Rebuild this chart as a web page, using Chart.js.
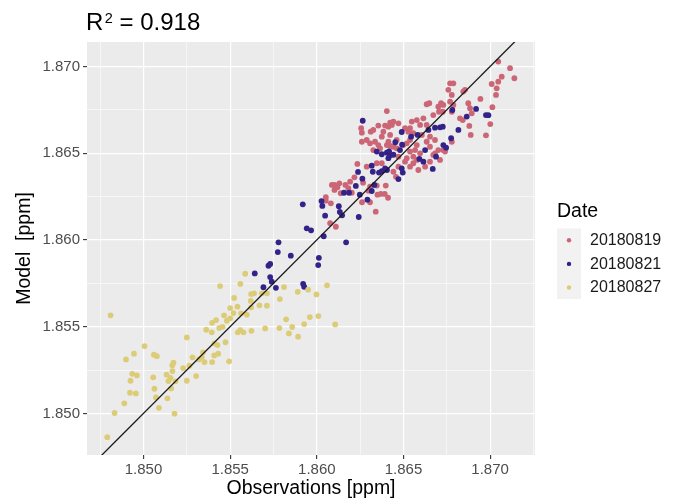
<!DOCTYPE html>
<html>
<head>
<meta charset="utf-8">
<script src="https://cdn.jsdelivr.net/npm/chart.js@4.4.1/dist/chart.umd.min.js"></script>
<style>
  body { margin: 0; background: #fff; }
  canvas { display: block; }
</style>
</head>
<body>
<canvas id="myChart" width="673" height="503"></canvas>
<script>
// ===== data
var dates = ["20180819", "20180821", "20180827"];
var colors = ["#CC6677", "#332288", "#DDCC77"];

var obs0819 = [1.86102,1.86119,1.86102,1.86130,1.86165,1.86182,1.86138,1.86217,1.86202,1.86267,1.86298,1.86346,1.86398,1.86350,1.86369,1.86392,1.86411,1.86261,1.86307,1.86340,1.86081,1.86052,1.86052,1.86077,1.86110,1.86457,1.86442,1.86192,1.86087,1.86307,
  1.86404,1.86442,1.86433,1.86423,1.86413,1.86394,1.86355,1.86326,1.86311,1.86260,1.86375,1.86384,1.86423,1.86413,1.86404,1.86423,1.86442,1.86461,1.86519,1.86538,1.86557,1.86548,1.86577,1.86577,1.86557,1.86519,1.86509,1.86538,1.86471,1.86336,1.86307,1.86346,1.86375,1.86288,1.86234,1.86538,1.86567,1.86586,
  1.86256,1.86471,1.86509,1.86538,1.86528,1.86260,1.86288,1.86355,1.86461,1.86326,1.86365,1.86577,1.86499,1.86471,1.86557,
  1.87047,1.87115,1.87140,1.87067,1.87047,1.87009,1.87038,1.87034,1.87013,1.87001,1.86976,1.86944,1.86884,1.86874,1.86894,1.86855,1.86845,1.86788,1.86769,1.86759,1.86779,1.86769,1.86779,1.86788,1.86826,1.86842,1.86880,1.86888,1.86779,1.86717,1.86701,1.86705,1.86672,1.86634,1.86649,1.86730,1.86727,1.86615,1.86596,1.86606,1.86653,1.86682,1.86701,1.86730,1.86740,1.86672,1.86634,1.86711,1.86653,1.86625,1.86634,1.86653,1.86682,1.86596];
var mod0819 = [1.86317,1.86303,1.86288,1.86326,1.86317,1.86298,1.86269,1.86361,1.86272,1.86330,1.86284,1.86313,1.86313,1.86261,1.86265,1.86265,1.86243,1.86217,1.86217,1.86163,1.86211,1.86226,1.86246,1.86096,1.86076,1.86364,1.86393,1.86336,1.86317,1.86307,
  1.86743,1.86682,1.86663,1.86676,1.86653,1.86659,1.86659,1.86634,1.86624,1.86618,1.86595,1.86624,1.86605,1.86566,1.86547,1.86542,1.86537,1.86528,1.86557,1.86576,1.86615,1.86682,1.86691,1.86461,1.86442,1.86471,1.86451,1.86422,1.86422,1.86566,1.86557,1.86442,1.86442,1.86422,1.86438,1.86509,1.86518,1.86403,
  1.86644,1.86672,1.86644,1.86644,1.86624,1.86566,1.86576,1.86547,1.86576,1.86518,1.86528,1.86547,1.86547,1.86480,1.86480,
  1.87028,1.86990,1.86932,1.86941,1.86912,1.86899,1.86874,1.86836,1.86765,1.86668,1.86603,1.86813,1.86759,1.86788,1.86730,1.86865,1.86855,1.86903,1.86903,1.86865,1.86836,1.86797,1.86739,1.86778,1.86701,1.86691,1.86657,1.86605,1.86566,1.86788,1.86768,1.86739,1.86720,1.86782,1.86788,1.86778,1.86739,1.86701,1.86663,1.86605,1.86595,1.86576,1.86518,1.86518,1.86509,1.86490,1.86566,1.86461,1.86451,1.86422,1.86663,1.86537,1.86499,1.86499];

var obs0821 = [1.85779,1.85775,1.85850,1.85721,1.85731,1.85642,1.85731,1.85740,1.85692,1.85764,1.85921,1.85927,1.86012,1.86008,1.86040,1.86169,
  1.85919,1.86027,1.86032,1.86048,1.86127,1.86133,1.86146,1.86242,1.85942,1.85967,1.86238,1.86225,1.86263,1.86157,1.86186,1.86248,1.86292,1.86317,1.86323,1.86359,1.86375,1.86405,1.86332,1.86471,
  1.86265,1.86490,1.86544,1.86582,1.86453,1.86492,1.86375,1.86404,1.86423,1.86442,1.86417,1.86317,1.86394,1.86490,1.86496,1.86592,1.86346,1.86480,1.86413,
  1.86782,1.86919,1.86865,1.86976,1.86990,1.86727,1.86711,1.86682,1.86644,1.86775,1.86730,1.86746,1.86688,1.86625,1.86615,1.86669,1.86817];
var mod0821 = [1.85986,1.85930,1.85909,1.85851,1.85861,1.85807,1.85786,1.85759,1.85727,1.85724,1.85747,1.85730,1.85897,1.85855,1.86021,1.85986,
  1.86205,1.86224,1.86196,1.86140,1.86194,1.86161,1.86142,1.86132,1.86067,1.86055,1.86392,1.86311,1.86353,1.86272,1.86272,1.86261,1.86232,1.86282,1.86393,1.86388,1.86396,1.86403,1.86317,1.86351,
  1.86687,1.86622,1.86595,1.86605,1.86563,1.86549,1.86494,1.86503,1.86488,1.86491,1.86511,1.86428,1.86413,1.86413,1.86388,1.86467,1.86509,1.86518,1.86471,
  1.86749,1.86755,1.86711,1.86720,1.86719,1.86653,1.86649,1.86647,1.86634,1.86586,1.86547,1.86532,1.86480,1.86518,1.86451,1.86409,1.86634];

var obs0827 = [1.84810,1.84833,1.84791,1.84889,1.84922,1.84956,1.84925,1.84935,1.84962,1.84899,1.84945,1.85006,1.85060,1.85077,1.85056,1.85063,1.85072,1.85089,1.85179,1.85138,1.85133,1.85144,1.85156,1.85160,1.85185,1.85167,1.85166,1.85173,1.85229,1.85250,
  1.85304,1.85265,1.85283,1.85320,1.85337,1.85352,1.85343,1.85396,1.85408,1.85409,1.85250,1.85362,1.85394,1.85396,1.85419,1.85437,1.85456,1.85465,1.85481,1.85500,1.85500,1.85519,1.85523,1.85542,1.85563,1.85596,1.85621,1.85619,1.85621,1.85638,
  1.85669,1.85683,1.85712,1.85712,1.85559,1.85587,1.85442,1.85473,1.85427,1.85431,1.85494,1.85544,1.85558,1.85577,1.85623,1.85702,1.85784,1.85839,1.85858,1.85892,1.85823,1.85927,1.85960,1.86009,1.86106,1.85787,1.85811,1.85890,1.85950,1.85998,1.86059];
var mod0827 = [1.85565,1.85002,1.84863,1.85058,1.85119,1.85115,1.85188,1.85228,1.85219,1.85311,1.85344,1.85388,1.85338,1.85330,1.85208,1.85142,1.85092,1.85032,1.84998,1.85087,1.85223,1.85186,1.85204,1.85144,1.85185,1.85244,1.85277,1.85292,1.85261,1.85188,
  1.85215,1.85275,1.85323,1.85311,1.85323,1.85296,1.85352,1.85296,1.85334,1.85404,1.85438,1.85482,1.85467,1.85522,1.85538,1.85492,1.85499,1.85565,1.85534,1.85548,1.85607,1.85578,1.85665,1.85615,1.85577,1.85569,1.85611,1.85648,1.85688,1.85692,
  1.85623,1.85692,1.85621,1.85692,1.85746,1.85805,1.85734,1.85410,1.85394,1.85344,1.85300,1.85467,1.85480,1.85467,1.85476,1.85490,1.85492,1.85461,1.85498,1.85442,1.85542,1.85515,1.85555,1.85561,1.85513,1.85659,1.85728,1.85701,1.85713,1.85686,1.85738];

var xMajor = [1.850, 1.855, 1.860, 1.865, 1.870];
var xMinor = [1.8475, 1.8525, 1.8575, 1.8625, 1.8675, 1.8725];
var yMajor = [1.850, 1.855, 1.860, 1.865, 1.870];
var yMinor = [1.8525, 1.8575, 1.8625, 1.8675];
var xRange = [1.84674, 1.87259];
var yRange = [1.8476, 1.87141];
var oneToOne = [1.845, 1.875];

// ===== helpers
function toPoints(xs, ys) {
  var pts = [];
  for (var i = 0; i < xs.length; i++) pts.push({ x: xs[i], y: ys[i] });
  return pts;
}
function isMajor(list, v) {
  for (var i = 0; i < list.length; i++) if (Math.abs(list[i] - v) < 1e-7) return true;
  return false;
}
function tickList(major, minor) {
  return major.concat(minor).sort(function (a, b) { return a - b; }).map(function (v) { return { value: v }; });
}

var FONT = "'Liberation Sans', Arial, Helvetica, sans-serif";
Chart.defaults.font.family = FONT;

// grey panel like ggplot
var panelBg = {
  id: 'panelBg',
  beforeDraw: function (chart) {
    var a = chart.chartArea, c = chart.ctx;
    c.save();
    c.fillStyle = '#EBEBEB';
    c.fillRect(a.left, a.top, a.right - a.left, a.bottom - a.top);
    c.restore();
  }
};

// title with superscript
var titlePlugin = {
  id: 'r2title',
  afterDraw: function (chart) {
    var c = chart.ctx;
    c.save();
    c.fillStyle = '#000';
    c.textBaseline = 'alphabetic';
    c.font = '24px ' + FONT;
    var x = 86;
    c.fillText('R', x, 30);
    x += c.measureText('R').width + 1.5;
    c.font = '14.5px ' + FONT;
    c.fillText('2', x, 23.3);
    x += c.measureText('2').width;
    c.font = '24px ' + FONT;
    c.fillText(' = 0.918', x, 30);
    c.restore();
  }
};

// legend on the right
var legendPlugin = {
  id: 'dateLegend',
  afterDraw: function (chart) {
    var c = chart.ctx;
    c.save();
    c.fillStyle = '#000';
    c.font = '19.5px ' + FONT;
    c.textBaseline = 'alphabetic';
    c.fillText('Date', 557, 216.7);
    c.fillStyle = '#F2F2F2';
    c.fillRect(557, 228.5, 24, 70.5);
    c.font = '16px ' + FONT;
    c.textBaseline = 'middle';
    for (var i = 0; i < dates.length; i++) {
      var y = 240.3 + i * 23.6;
      c.fillStyle = colors[i];
      c.beginPath();
      c.arc(569, y, 2.2, 0, Math.PI * 2);
      c.fill();
      c.fillStyle = '#1A1A1A';
      c.fillText(dates[i], 590, y + 0.5);
    }
    c.restore();
  }
};

function gridWidth(major) {
  return function (ctx) { return isMajor(major, ctx.tick.value) ? 1.2 : 0.55; };
}
function tickCol(major) {
  return function (ctx) { return isMajor(major, ctx.tick.value) ? '#333333' : 'rgba(0,0,0,0)'; };
}

var ctx = document.getElementById("myChart").getContext("2d");
var myChart = new Chart(ctx, {
  type: "scatter",
  data: {
    datasets: [
      {
        type: "line",
        data: oneToOne.map(function (v) { return { x: v, y: v }; }),
        borderColor: "#1A1A1A",
        borderWidth: 1.3,
        pointRadius: 0,
        clip: 0,
        order: 0
      },
      { label: dates[0], data: toPoints(obs0819, mod0819), backgroundColor: colors[0], pointRadius: 2.9, pointBorderWidth: 0, order: 3 },
      { label: dates[1], data: toPoints(obs0821, mod0821), backgroundColor: colors[1], pointRadius: 2.9, pointBorderWidth: 0, order: 2 },
      { label: dates[2], data: toPoints(obs0827, mod0827), backgroundColor: colors[2], pointRadius: 2.9, pointBorderWidth: 0, order: 1 }
    ]
  },
  options: {
    responsive: false,
    animation: false,
    layout: { padding: { top: 42, right: 138, bottom: 0, left: 0 } },
    plugins: {
      legend: { display: false },
      tooltip: { enabled: false }
    },
    scales: {
      x: {
        type: "linear",
        min: xRange[0],
        max: xRange[1],
        afterBuildTicks: function (s) { s.ticks = tickList(xMajor, xMinor); },
        afterFit: function (s) { s.height = 48; },
        ticks: {
          autoSkip: false,
          maxRotation: 0,
          padding: 2,
          color: "#4D4D4D",
          font: { size: 15 },
          callback: function (v) { return isMajor(xMajor, v) ? v.toFixed(3) : ""; }
        },
        grid: { color: "#FFFFFF", lineWidth: gridWidth(xMajor), tickColor: tickCol(xMajor), tickLength: 4, tickWidth: 1.1 },
        border: { display: false },
        title: { display: true, text: "Observations [ppm]", color: "#000", font: { size: 19.5 }, padding: { top: 0, bottom: 3 } }
      },
      y: {
        type: "linear",
        min: yRange[0],
        max: yRange[1],
        afterBuildTicks: function (s) { s.ticks = tickList(yMajor, yMinor); },
        afterFit: function (s) { s.width = 87; },
        ticks: {
          autoSkip: false,
          padding: 3,
          color: "#4D4D4D",
          font: { size: 15 },
          callback: function (v) { return isMajor(yMajor, v) ? v.toFixed(3) : ""; }
        },
        grid: { color: "#FFFFFF", lineWidth: gridWidth(yMajor), tickColor: tickCol(yMajor), tickLength: 4, tickWidth: 1.1 },
        border: { display: false },
        title: { display: true, text: "Model  [ppm]", color: "#000", font: { size: 19.5 }, padding: { top: 13, bottom: 0 } }
      }
    }
  },
  plugins: [panelBg, titlePlugin, legendPlugin]
});
</script>
</body>
</html>
